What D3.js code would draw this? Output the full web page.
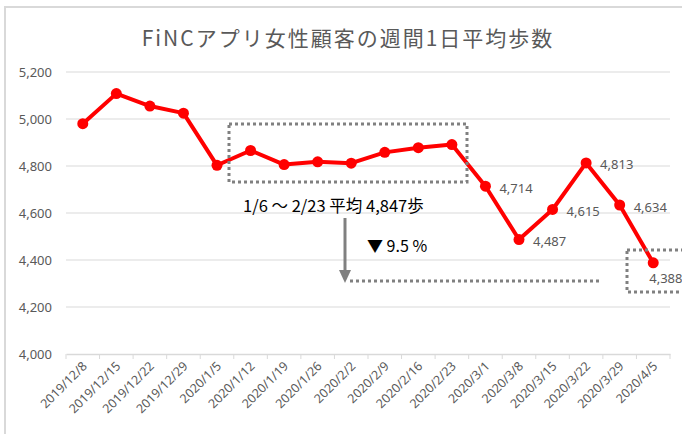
<!DOCTYPE html>
<html><head><meta charset="utf-8">
<script src="https://cdn.jsdelivr.net/npm/d3@7"></script>
<style>
html,body{margin:0;padding:0;background:#fff;}
svg{display:block;font-family:"Noto Sans CJK JP","Noto Sans",sans-serif;}
</style></head>
<body>
<script>
const categories = ["2019/12/8","2019/12/15","2019/12/22","2019/12/29","2020/1/5","2020/1/12","2020/1/19","2020/1/26","2020/2/2","2020/2/9","2020/2/16","2020/2/23","2020/3/1","2020/3/8","2020/3/15","2020/3/22","2020/3/29","2020/4/5"];
const steps = [4980,5108,5055,5025,4803,4866,4806,4818,4812,4858,4878,4891,4714,4487,4615,4813,4634,4388];
const labelledFrom = 12;
const yTicks = [4000,4200,4400,4600,4800,5000,5200];
const title = "FiNCアプリ女性顧客の週間1日平均歩数";
const avgNote = "1/6 ～ 2/23 平均 4,847歩";
const dropNote = "▼ 9.5 %";

const W = 682, H = 434;
const svg = d3.select("body").append("svg").attr("width", W).attr("height", H);

// chart frame
svg.append("rect").attr("x",5).attr("y",7).attr("width",W+10).attr("height",H+10)
  .attr("fill","none").attr("stroke","#d9d9d9").attr("stroke-width",2);

const x = d3.scaleBand().domain(categories).range([66,670]);
const y = d3.scaleLinear().domain([4000,5200]).range([354,72]);

// title
svg.append("text").attr("x",348).attr("y",46).attr("text-anchor","middle")
  .attr("font-size",21).attr("letter-spacing",2).attr("fill","#595959").text(title);

// gridlines
svg.append("g").selectAll("line").data(yTicks.filter(d=>d>4000)).join("line")
  .attr("x1",66).attr("x2",670).attr("y1",d=>y(d)).attr("y2",d=>y(d))
  .attr("stroke","#d9d9d9").attr("stroke-width",1);

// y axis labels
const ya = svg.append("g").attr("transform","translate(66,0)")
  .call(d3.axisLeft(y).tickValues(yTicks).tickFormat(d3.format(",")).tickSize(0).tickPadding(14));
ya.select(".domain").remove();
ya.selectAll("text").attr("font-size",13).attr("fill","#595959").attr("font-family","'Noto Sans','Noto Sans CJK JP',sans-serif");

// x axis
const xa = svg.append("g").attr("transform","translate(0,354)")
  .call(d3.axisBottom(x).tickSize(0).tickFormat(d=>d));
xa.select(".domain").attr("stroke","#d9d9d9").attr("stroke-width",1.5);
xa.selectAll(".tick text").attr("font-size",12.5).attr("fill","#595959")
  .attr("font-family","'Noto Sans','Noto Sans CJK JP',sans-serif")
  .attr("text-anchor","end").attr("dy",0).attr("y",0)
  .attr("transform","translate(5,13) rotate(-45)");
// tick marks at band boundaries
svg.append("g").selectAll("line").data(categories.concat(["__end"])).join("line")
  .attr("x1",(d,i)=>x.range()[0]+i*x.step()).attr("x2",(d,i)=>x.range()[0]+i*x.step())
  .attr("y1",354).attr("y2",359).attr("stroke","#d9d9d9").attr("stroke-width",1);

// line
const cx = (d,i)=>x(categories[i])+x.bandwidth()/2;
svg.append("path").datum(steps)
  .attr("fill","none").attr("stroke","#ff0000").attr("stroke-width",4).attr("stroke-linejoin","round")
  .attr("d", d3.line().x((d,i)=>cx(d,i)).y(d=>y(d)));
svg.append("g").selectAll("circle").data(steps).join("circle")
  .attr("cx",(d,i)=>cx(d,i)).attr("cy",d=>y(d)).attr("r",5.5).attr("fill","#ff0000");

// data labels
const fmt = d3.format(",");
svg.append("g").selectAll("text").data(steps.map((v,i)=>({v,i})).filter(d=>d.i>=labelledFrom)).join("text")
  .attr("x",d=> d.i===steps.length-1 ? cx(d.v,d.i)-4 : cx(d.v,d.i)+14)
  .attr("y",d=> d.i===steps.length-1 ? y(d.v)+16 : y(d.v)+2)
  .attr("dy","0.35em").attr("font-size",13).attr("fill","#595959")
  .attr("font-family","'Noto Sans','Noto Sans CJK JP',sans-serif")
  .text(d=>fmt(d.v));

// annotations
const dash = {stroke:"#808080","stroke-width":3,"stroke-dasharray":"3 3",fill:"none"};
function applyAttrs(sel,o){for(const k in o) sel.attr(k,o[k]); return sel;}
applyAttrs(svg.append("rect").attr("x",229).attr("y",124).attr("width",238).attr("height",58),dash);
applyAttrs(svg.append("rect").attr("x",627).attr("y",250).attr("width",80).attr("height",42),dash);
applyAttrs(svg.append("line").attr("x1",350).attr("x2",602).attr("y1",281).attr("y2",281),dash);

svg.append("line").attr("x1",345).attr("x2",345).attr("y1",218).attr("y2",272)
  .attr("stroke","#808080").attr("stroke-width",3);
svg.append("path").attr("d","M339,270 L351,270 L345,283 Z").attr("fill","#808080");

svg.append("text").attr("x",243).attr("y",212).attr("font-size",16.5).attr("fill","#000").text(avgNote);
svg.append("text").attr("x",367).attr("y",252).attr("font-size",16).attr("fill","#000").text(dropNote);
</script>
</body></html>
